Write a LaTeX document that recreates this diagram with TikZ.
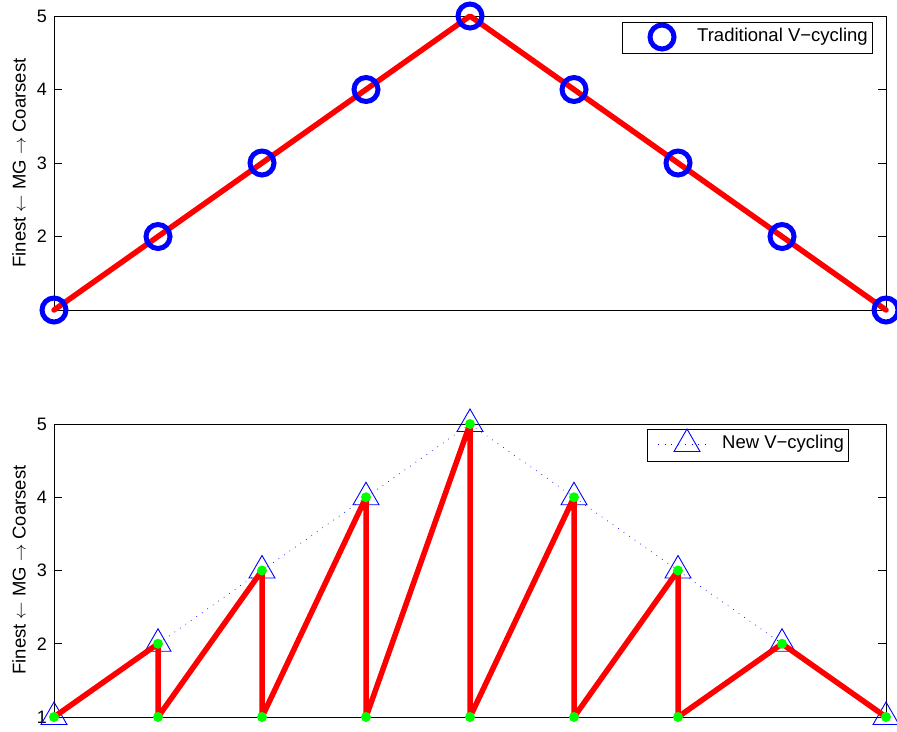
\documentclass[tikz,border=0pt]{standalone}
\usepackage{fontspec}
\setmainfont{Liberation Sans}
\usetikzlibrary{positioning, shapes.geometric}

\tikzset{
  axbox/.style={draw=black, line width=0.9pt},
  axtick/.style={black, line width=0.9pt},
  ticklab/.style={anchor=east, inner sep=0pt, font=\fontsize{18}{20}\selectfont},
  ylab/.style={rotate=90, font=\fontsize{18.5}{20}\selectfont},
  vline/.style={red, line width=5.5pt, line join=round, line cap=round},
  omark/.style={circle, draw=blue, line width=5pt, minimum size=24pt, inner sep=0pt},
  tmark/.style={regular polygon, regular polygon sides=3, draw=blue, line width=0.9pt,
    minimum size=30pt, inner sep=0pt, outer sep=0pt},
  gdot/.style={circle, fill=green, minimum size=10pt, inner sep=0pt},
  guide/.style={blue, line width=0.7pt, dash pattern=on 0.7pt off 6pt},
  legbox/.style={draw=black, fill=white, line width=0.9pt},
  legtext/.style={anchor=west, inner sep=0pt, font=\fontsize{18.5}{20}\selectfont},
}

\begin{document}
\begin{tikzpicture}[x=1pt, y=-1pt]
  \useasboundingbox (0,0) rectangle (897,731);

  % upper axes
  \draw[axbox] (54,16) rectangle (886,310);
  \foreach \v in {2,3,4} {
    \draw[axtick] (54,{310-(\v-1)*73.5}) -- ++(8,0);
    \draw[axtick] (886,{310-(\v-1)*73.5}) -- ++(-8,0);
  }
  \foreach \v in {2,...,5}
    \node[ticklab] at (47,{310-(\v-1)*73.5}) {\v};
  \node[ylab] (ylabtop) at (19,163) {Finest $\leftarrow$ MG $\rightarrow$ Coarsest};

  % traditional cycle
  \foreach \i/\v in {1/1,2/2,3/3,4/4,5/5,6/4,7/3,8/2,9/1}
    \coordinate (p\i) at ({54+(\i-1)*104},{310-(\v-1)*73.5});
  \draw[vline] (p1) \foreach \i in {2,...,9} { -- (p\i) };
  \foreach \i in {1,...,9}
    \node[omark] (mark\i) at (p\i) {};

  % upper legend
  \draw[legbox] (622,22) rectangle (872,53);
  \node[omark] (legcirc) at (662,37) {};
  \node[legtext] (legtop) at (697,37) {Traditional V−cycling};

  % lower axes
  \draw[axbox] (54,424) rectangle (886,717);
  \foreach \v in {2,3,4} {
    \draw[axtick] (54,{717-(\v-1)*73.25}) -- ++(8,0);
    \draw[axtick] (886,{717-(\v-1)*73.25}) -- ++(-8,0);
  }
  \foreach \v in {1,...,5}
    \node[ticklab] at (47,{717-(\v-1)*73.25}) {\v};
  \node[ylab] (ylabbot) at (19,570) {Finest $\leftarrow$ MG $\rightarrow$ Coarsest};

  % new cycle
  \foreach \i/\v in {1/1,2/2,3/3,4/4,5/5,6/4,7/3,8/2,9/1} {
    \coordinate (q\i) at ({54+(\i-1)*104},{717-(\v-1)*73.25});
    \coordinate (b\i) at ({54+(\i-1)*104},717);
  }
  \draw[guide] (q1) \foreach \i in {2,...,9} { -- (q\i) };
  \foreach \i in {1,...,9}
    \node[tmark] (tri\i) at (q\i) {};
  \draw[vline] (q1) -- (q2) -- (b2) -- (q3) -- (b3) -- (q4) -- (b4) -- (q5)
    -- (b5) -- (q6) -- (b6) -- (q7) -- (b7) -- (q8) -- (q9);
  \foreach \i in {1,...,9}
    \node[gdot] at (q\i) {};
  \foreach \i in {2,...,7}
    \node[gdot] at (b\i) {};

  % lower legend
  \draw[legbox] (647,429) rectangle (848,461);
  \coordinate (legl) at (658,444);
  \coordinate (legr) at (710,444);
  \draw[guide] (legl) -- (legr);
  \node[tmark] (legtri) at (687,444) {};
  \node[legtext] (legbot) at (722,444) {New V−cycling};
\end{tikzpicture}
\end{document}
